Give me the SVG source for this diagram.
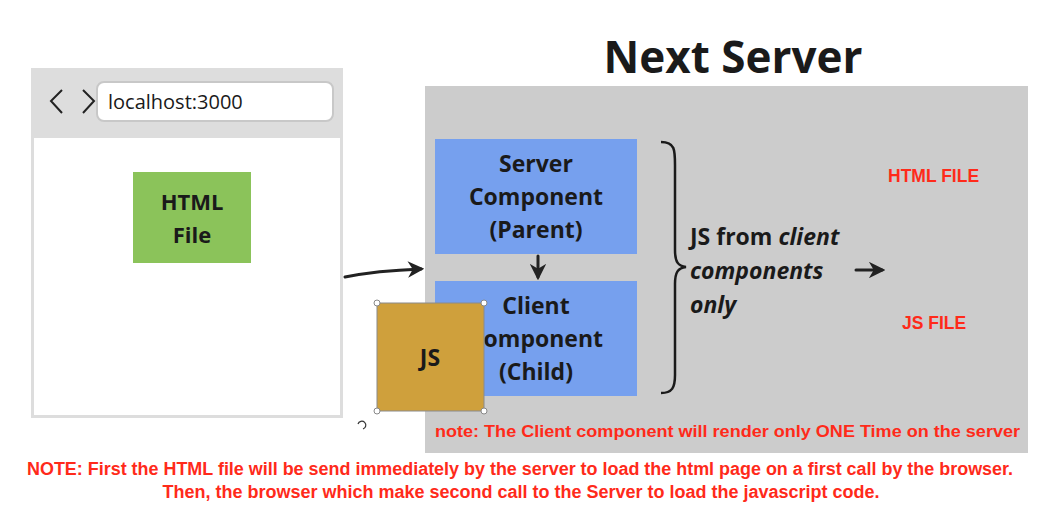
<svg xmlns="http://www.w3.org/2000/svg" width="1052" height="513" viewBox="0 0 1052 513">
  <defs>
    <style>
      .lbl { font-family: "Open Sans", "Noto Sans", sans-serif; font-weight: bold; fill: #1a1a1a; text-anchor: middle; }
      .red { font-family: "Liberation Sans", Arial, sans-serif; font-weight: bold; fill: #ff2a1a; }
      .conn { fill: none; stroke: #222; stroke-width: 3; stroke-linecap: round; }
      .handle { fill: #fff; stroke: #888; stroke-width: 1; }
      .js { font-family: "Open Sans", "Noto Sans", sans-serif; font-weight: bold; font-size: 23px; fill: #1a1a1a; }
    </style>
    <marker id="ah" viewBox="0 0 10 10" refX="8" refY="5" markerWidth="5.5" markerHeight="5.5" orient="auto">
      <path d="M0,0 L10,5 L0,10 L3,5 Z" fill="#222"/>
    </marker>
  </defs>
  <rect width="1052" height="513" fill="#fff"/>

  <!-- Title -->
  <text x="733" y="73" font-family="'Open Sans', 'Noto Sans', sans-serif" font-weight="bold" font-size="44" fill="#1a1a1a" text-anchor="middle">Next Server</text>

  <!-- Server area -->
  <g id="server">
    <rect x="425" y="86" width="603" height="367" fill="#cccccc"/>
  </g>

  <!-- Browser -->
  <g id="browser">
    <rect x="31" y="68" width="312" height="350" fill="#dddddd"/>
    <rect x="34" y="138" width="306" height="277" fill="#ffffff"/>
    <rect x="97" y="82" width="236" height="39" rx="7" fill="#ffffff" stroke="#c8c8c8" stroke-width="2"/>
    <text x="108" y="109" font-family="'Open Sans', 'Noto Sans', sans-serif" font-size="20" fill="#1a1a1a">localhost:3000</text>
    <path d="M62,90 L51,101 L62,113" fill="none" stroke="#222" stroke-width="2"/>
    <path d="M83,90 L94,101 L83,113" fill="none" stroke="#222" stroke-width="2"/>
  </g>

  <g id="html-file">
    <rect x="133" y="172" width="118" height="91" fill="#8bc35a"/>
    <text class="lbl" x="192" y="210" font-size="22">HTML</text>
    <text class="lbl" x="192" y="243" font-size="22">File</text>
  </g>

  <g id="server-component">
    <rect x="435" y="139" width="202" height="115" fill="#76a0ee"/>
    <text class="lbl" x="536" y="172" font-size="23">Server</text>
    <text class="lbl" x="536" y="205" font-size="23">Component</text>
    <text class="lbl" x="536" y="238" font-size="23">(Parent)</text>
  </g>

  <g id="client-component">
    <rect x="435" y="281" width="202" height="115" fill="#76a0ee"/>
    <text class="lbl" x="536" y="314" font-size="23">Client</text>
    <text class="lbl" x="536" y="347" font-size="23">Component</text>
    <text class="lbl" x="536" y="380" font-size="23">(Child)</text>
  </g>

  <g id="js">
    <rect x="377" y="303" width="107" height="108" fill="#cfa03c" stroke="#8a8a8a" stroke-width="1"/>
    <text class="lbl" x="430" y="366" font-size="23">JS</text>
    <circle class="handle" cx="377" cy="303" r="3"/>
    <circle class="handle" cx="484" cy="303" r="3"/>
    <circle class="handle" cx="377" cy="411" r="3"/>
    <circle class="handle" cx="484" cy="411" r="3"/>
    <path d="M363,429 A4,4 0 1 0 358,424" fill="none" stroke="#333" stroke-width="1.2"/>
  </g>

  <g id="js-from-client">
    <text class="js" x="690" y="245">JS from <tspan font-style="italic">client</tspan></text>
    <text class="js" x="690" y="279" font-style="italic">components</text>
    <text class="js" x="690" y="313" font-style="italic">only</text>
  </g>

  <g id="labels">
    <text class="red" x="888" y="182" font-size="17.5">HTML FILE</text>
    <text class="red" x="902" y="329" font-size="17.5">JS FILE</text>
    <text class="red" x="435" y="437" font-size="17" textLength="585" lengthAdjust="spacingAndGlyphs">note: The Client component will render only ONE Time on the server</text>
    <text class="red" x="520" y="475" font-size="18" text-anchor="middle" textLength="986" lengthAdjust="spacingAndGlyphs">NOTE: First the HTML file will be send immediately by the server to load the html page on a first call by the browser.</text>
    <text class="red" x="521" y="498" font-size="18" text-anchor="middle" textLength="717" lengthAdjust="spacingAndGlyphs">Then, the browser which make second call to the Server to load the javascript code.</text>
  </g>

  <g id="connectors">
    <path class="conn" d="M345,277 C370,272 395,270 421,269" marker-end="url(#ah)"/>
    <path class="conn" d="M538,256 L538,277" marker-end="url(#ah)"/>
    <path class="conn" d="M856,270 L882,270" marker-end="url(#ah)"/>
    <path d="M661,142 C675,142 675,150 675,165 L675,250 C675,262 678,266 686,267 C678,268 675,272 675,284 L675,375 C675,388 672,393 661,393" fill="none" stroke="#1a1a1a" stroke-width="2.5"/>
  </g>
</svg>
